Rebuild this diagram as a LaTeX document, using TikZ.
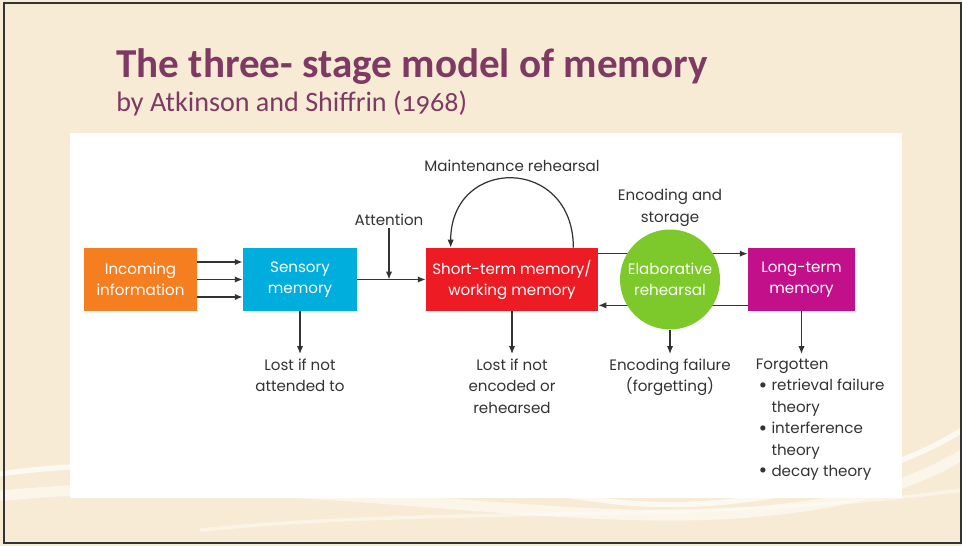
\documentclass[tikz,border=0pt]{standalone}
\usepackage{fontspec}
\usepackage{graphicx}
\setmainfont{Poppins}
\newfontfamily\titlefont[Numbers=OldStyle]{Carlito}
\usetikzlibrary{arrows.meta}

\definecolor{bgcream}{HTML}{F8EBD6}
\definecolor{titleplum}{HTML}{7E3A62}
\definecolor{inorange}{HTML}{F47E20}
\definecolor{senblue}{HTML}{00AEDE}
\definecolor{stmred}{HTML}{ED1C24}
\definecolor{elabgreen}{HTML}{7DC92B}
\definecolor{ltmpink}{HTML}{C2108B}
\definecolor{inkgray}{HTML}{333333}

% bullet for the list of forgetting theories
\newcommand\blt{\kern1.6pt\raisebox{-0.18ex}{\scalebox{1.4}{•}}\kern2.4pt}

\begin{document}
\begin{tikzpicture}[x=0.02cm, y=-0.02cm,
    box/.style={fill=#1, text=white, minimum height=1.26cm, inner sep=0pt,
                align=center, font=\fontsize{8.6}{12}\selectfont},
    lbl/.style={text=inkgray, align=center, inner sep=2.5pt,
                font=\fontsize{8.6}{12.2}\selectfont},
    arr/.style={draw=inkgray, line width=0.7pt, -{Latex[length=4.5pt,width=3.6pt]}}]
  \useasboundingbox (0,0) rectangle (962,546);

  % slide background with its soft swooshes
  \fill[bgcream] (0,0) rectangle (962,546);
  \draw[white, opacity=0.7, line width=3pt] (0,474) .. controls (150,452) and (400,470) .. (600,500)
      .. controls (750,520) and (900,470) .. (962,430);
  \draw[white, opacity=0.5, line width=6pt] (0,496) .. controls (250,470) and (500,520) .. (700,515)
      .. controls (850,510) and (920,480) .. (962,455);
  \draw[white, opacity=0.4, line width=2pt] (200,530) .. controls (450,505) and (700,525) .. (962,490);
  \draw[black!80, line width=1.2pt] (4,3) rectangle (961,543);

  % heading
  \node[anchor=base west, inner sep=0pt, text=titleplum,
        font=\titlefont\bfseries\fontsize{23.4}{27}\selectfont] (title) at (116,78)
        {The three- stage model of memory};
  \node[anchor=base west, inner sep=0pt, text=titleplum,
        font=\titlefont\fontsize{16}{19}\selectfont] (subtitle) at (116,112)
        {by Atkinson and Shiffrin (1968)};

  % white panel
  \fill[white] (70,133) rectangle (902,498);

  % stores
  \node[box=inorange, minimum width=2.26cm] (inc) at (140.5,279.5) {Incoming\\information};
  \node[box=senblue, minimum width=2.28cm] (sens) at (300,279.5) {Sensory\\memory};
  \node[box=stmred, minimum width=3.44cm] (stm) at (512,279.5) {Short-term memory/\\working memory};
  \node[box=ltmpink, minimum width=2.14cm] (ltm) at (801.5,279.5) {Long-term\\memory};

  % transfer between short- and long-term memory
  \draw[arr] ([yshift=-0.12cm]stm.north east) -- ([yshift=-0.12cm]stm.north east -| ltm.west);
  \draw[arr] ([yshift=0.12cm]stm.south east -| ltm.west) -- ([yshift=0.12cm]stm.south east);

  \node[box=elabgreen, circle, minimum size=2cm] (elab) at (670,279.5) {Elaborative\\rehearsal};

  % incoming information enters sensory memory
  \foreach \dy in {0.35,0,-0.35}
    \draw[arr] ([yshift=\dy cm]inc.east) -- ([yshift=\dy cm]inc.east -| sens.west);
  \draw[arr] (sens) -- (stm);

  \node[lbl, inner sep=1pt] (att) at (389,220) {Attention};
  \draw[arr] (att.south) -- (att.south |- sens.east);

  \node[lbl, inner sep=1pt] (maint) at (512,166) {Maintenance rehearsal};
  \draw[arr] ([xshift=-0.5cm]stm.north east) .. controls +(0,-92) and +(0,-92) .. ([xshift=0.5cm]stm.north west);

  \node[lbl, inner sep=1pt] (encst) at (670,208) {Encoding and\\storage};

  % what is lost at each stage
  \node[lbl, anchor=north] (lostsens) at (300,354) {Lost if not\\attended to};
  \node[lbl, anchor=north] (loststm) at (512,354) {Lost if not\\encoded or\\rehearsed};
  \node[lbl, anchor=north] (encfail) at (670,354) {Encoding failure\\(forgetting)};
  \node[lbl, anchor=north west, align=left] (forgot) at (751,354)
      {Forgotten\\
       \blt retrieval failure\\
       \phantom{\blt}theory\\
       \blt interference\\
       \phantom{\blt}theory\\
       \blt decay theory};

  \draw[arr] (sens.south) -- (lostsens.north);
  \draw[arr] (stm.south) -- (loststm.north);
  \draw[arr] (elab.south) -- (encfail.north);
  \draw[arr] (ltm.south) -- (ltm.south |- forgot.north);
\end{tikzpicture}
\end{document}
